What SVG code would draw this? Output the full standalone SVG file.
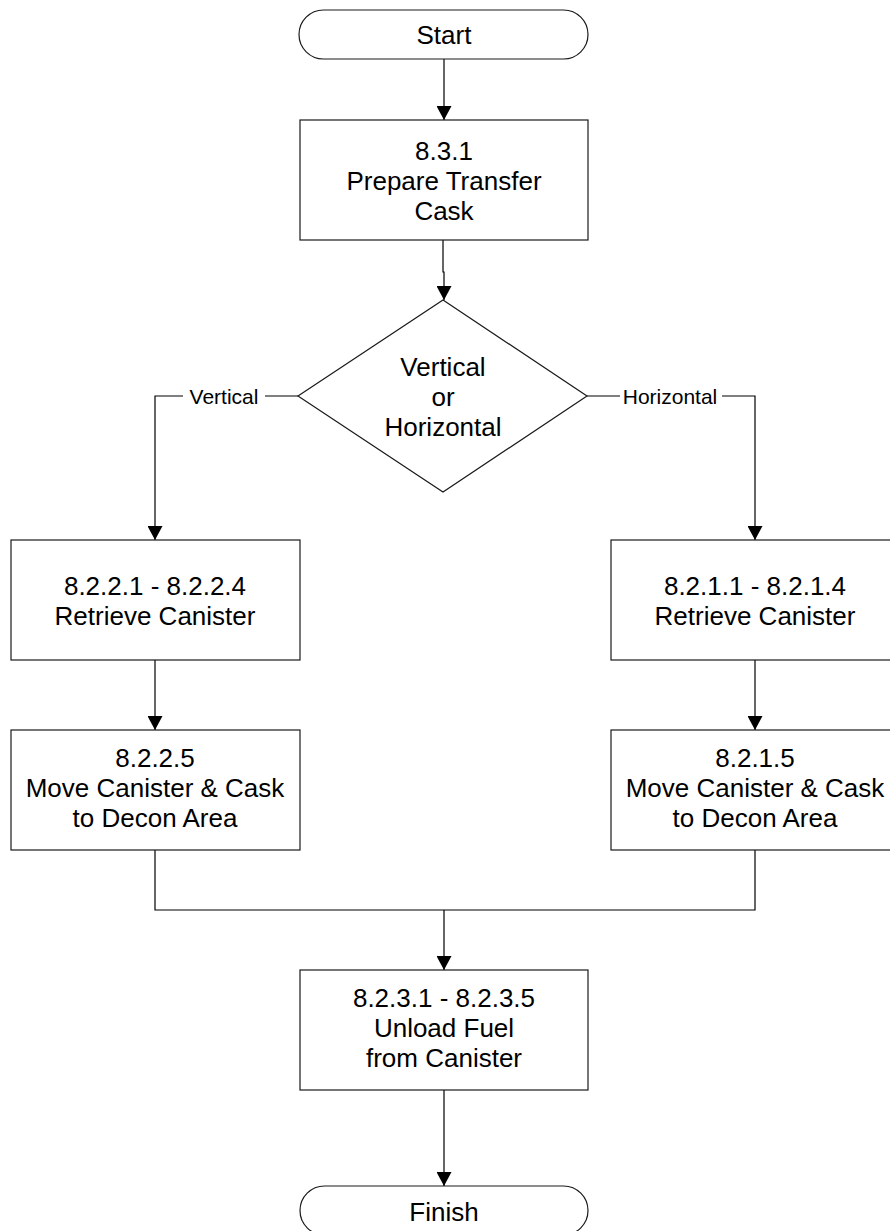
<svg xmlns="http://www.w3.org/2000/svg" width="890" height="1231" viewBox="0 0 890 1231">
<style>
.shape{fill:#fff;stroke:#1a1a1a;stroke-width:1.2}
.t{font-family:"Liberation Sans",Arial,sans-serif;font-size:26px;fill:#000;text-anchor:middle}
.lbl{font-family:"Liberation Sans",Arial,sans-serif;font-size:21px;fill:#000;text-anchor:middle}
.c{fill:none;stroke:#000;stroke-width:1.2}
</style>
<defs>
<marker id="arr" markerUnits="userSpaceOnUse" markerWidth="15" markerHeight="15" refX="14" refY="7.5" orient="auto">
<path d="M0,0 L14,7.5 L0,15 z" fill="#000"/>
</marker>
</defs>
<rect width="890" height="1231" fill="#fff"/>
<g id="connectors">
<path class="c" d="M444,59 V120" marker-end="url(#arr)"/>
<path class="c" d="M443,240 V272 H444 V300" marker-end="url(#arr)"/>
<path class="c" d="M298,396 H265"/>
<path class="c" d="M183,396 H155 V540" marker-end="url(#arr)"/>
<path class="c" d="M587,396 H620"/>
<path class="c" d="M722,396 H755 V540" marker-end="url(#arr)"/>
<path class="c" d="M155,660 V730" marker-end="url(#arr)"/>
<path class="c" d="M755,660 V730" marker-end="url(#arr)"/>
<path class="c" d="M155,850 V910 H755 V850"/>
<path class="c" d="M444,910 V970" marker-end="url(#arr)"/>
<path class="c" d="M444,1090 V1186" marker-end="url(#arr)"/>
<text class="lbl" x="224" y="403.5">Vertical</text>
<text class="lbl" x="670" y="403.5">Horizontal</text>
</g>
<g id="start">
<rect class="shape" x="299" y="10" width="289" height="49" rx="24.5" ry="24.5"/>
<text class="t" x="444" y="44">Start</text>
</g>
<g id="prepare">
<rect class="shape" x="300" y="120" width="288" height="120"/>
<text class="t" x="444" y="160">8.3.1</text>
<text class="t" x="444" y="190">Prepare Transfer</text>
<text class="t" x="444" y="220">Cask</text>
</g>
<g id="decision">
<polygon class="shape" points="443,300 587,396 443,492 298,396"/>
<text class="t" x="443" y="376">Vertical</text>
<text class="t" x="443" y="406">or</text>
<text class="t" x="443" y="436">Horizontal</text>
</g>
<g id="retrieveV">
<rect class="shape" x="11" y="540" width="289" height="120"/>
<text class="t" x="155" y="594.5">8.2.2.1 - 8.2.2.4</text>
<text class="t" x="155" y="624.5">Retrieve Canister</text>
</g>
<g id="retrieveH">
<rect class="shape" x="611" y="540" width="289" height="120"/>
<text class="t" x="755" y="594.5">8.2.1.1 - 8.2.1.4</text>
<text class="t" x="755" y="624.5">Retrieve Canister</text>
</g>
<g id="moveV">
<rect class="shape" x="11" y="730" width="289" height="120"/>
<text class="t" x="155" y="767">8.2.2.5</text>
<text class="t" x="155" y="797">Move Canister &amp; Cask</text>
<text class="t" x="155" y="827">to Decon Area</text>
</g>
<g id="moveH">
<rect class="shape" x="611" y="730" width="289" height="120"/>
<text class="t" x="755" y="767">8.2.1.5</text>
<text class="t" x="755" y="797">Move Canister &amp; Cask</text>
<text class="t" x="755" y="827">to Decon Area</text>
</g>
<g id="unload">
<rect class="shape" x="300" y="970" width="288" height="120"/>
<text class="t" x="444" y="1007">8.2.3.1 - 8.2.3.5</text>
<text class="t" x="444" y="1037">Unload Fuel</text>
<text class="t" x="444" y="1067">from Canister</text>
</g>
<g id="finish">
<rect class="shape" x="300" y="1186" width="288" height="49" rx="24.5" ry="24.5"/>
<text class="t" x="444" y="1221">Finish</text>
</g>
</svg>
